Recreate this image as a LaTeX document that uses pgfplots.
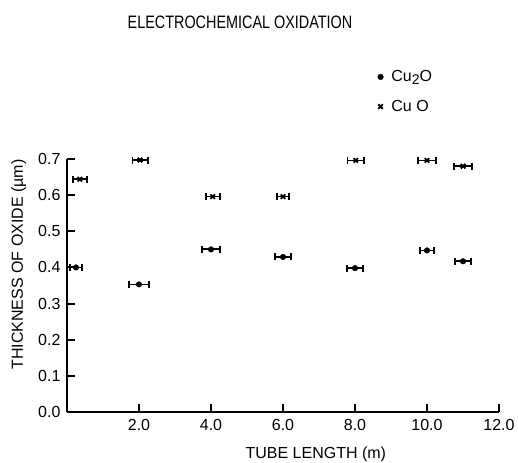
\documentclass[border=0pt]{standalone}
\usepackage{pgfplots}
\pgfplotsset{compat=1.18}
\usepackage{fontspec}
\setmainfont{Liberation Sans}
\usepackage{graphicx}

\pgfplotstableread{
x y ex
0.25 0.400 0.16
2.0 0.353 0.27
4.0 0.450 0.24
6.0 0.429 0.23
8.0 0.398 0.23
10.0 0.447 0.20
11.0 0.417 0.22
}\cuIIo

\pgfplotstableread{
x y ex
0.36 0.644 0.19
2.03 0.697 0.21
4.05 0.596 0.19
6.0 0.596 0.17
8.02 0.696 0.23
10.0 0.696 0.25
11.0 0.680 0.24
}\cuo

\begin{document}
\begin{tikzpicture}
\begin{axis}[
  at={(67pt,50pt)}, anchor=origin,
  scale only axis, width=432pt, height=253pt,
  xmin=0, xmax=12, ymin=0, ymax=0.7,
  axis x line=bottom, axis y line=left,
  axis line style={-, line width=2pt},
  xtick={2,4,6,8,10,12},
  ytick={0,0.1,0.2,0.3,0.4,0.5,0.6,0.7},
  tick align=inside,
  major tick length=8pt,
  tick style={draw=black, line width=2pt},
  /pgf/number format/fixed,
  /pgf/number format/fixed zerofill,
  /pgf/number format/precision=1,
  /pgf/number format/assume math mode=true,
  font=\fontsize{16}{19}\selectfont,
  xticklabel style={yshift=-4pt},
  yticklabel style={xshift=-3pt},
  xlabel={TUBE LENGTH (m)},
  ylabel={THICKNESS OF OXIDE (µm)},
  xlabel style={at={(rel axis cs:0.576,-0.166)}, anchor=center},
  ylabel style={at={(rel axis cs:-0.112,0.583)}, anchor=center},
  clip=false,
  legend style={draw=none, fill=none, at={(rel axis cs:0.712,1.366)}, anchor=north west,
    font=\fontsize{16}{19}\selectfont, row sep=13pt, column sep=6pt},
  legend cell align=left,
]
\addplot[only marks, mark=*, mark size=2.8pt, black,
  error bars/.cd, x dir=both, x explicit,
  error bar style={line width=1.8pt, black},
  error mark=|,
  error mark options={line width=1.8pt, mark size=3.5pt, black}]
  table[x=x, y=y, x error=ex] {\cuIIo};
\addlegendentry{Cu\raisebox{-3pt}{\fontsize{14}{16}\selectfont 2}O}
\addplot[only marks, mark=x, mark size=3.2pt, black, mark options={line width=1.8pt},
  error bars/.cd, x dir=both, x explicit,
  error bar style={line width=1.8pt, black},
  error mark=|,
  error mark options={line width=1.8pt, mark size=3.5pt, black}]
  table[x=x, y=y, x error=ex] {\cuo};
\addlegendentry{Cu O}
\end{axis}
\foreach \x in {139,211,283,355,427,499} {
  \draw[line width=2pt, black] (\x pt,50pt) -- (\x pt,57pt);
}
\foreach \y in {86.14,122.29,158.43,194.57,230.71,266.86,303} {
  \draw[line width=2pt, black] (67pt,\y pt) -- (75pt,\y pt);
}
\node at (240pt,440pt) {\fontsize{18}{21}\selectfont\scalebox{0.8}[1]{ELECTROCHEMICAL OXIDATION}};
\pgfresetboundingbox
\path (0pt,0pt) rectangle (518pt,462pt);
\end{tikzpicture}
\end{document}
